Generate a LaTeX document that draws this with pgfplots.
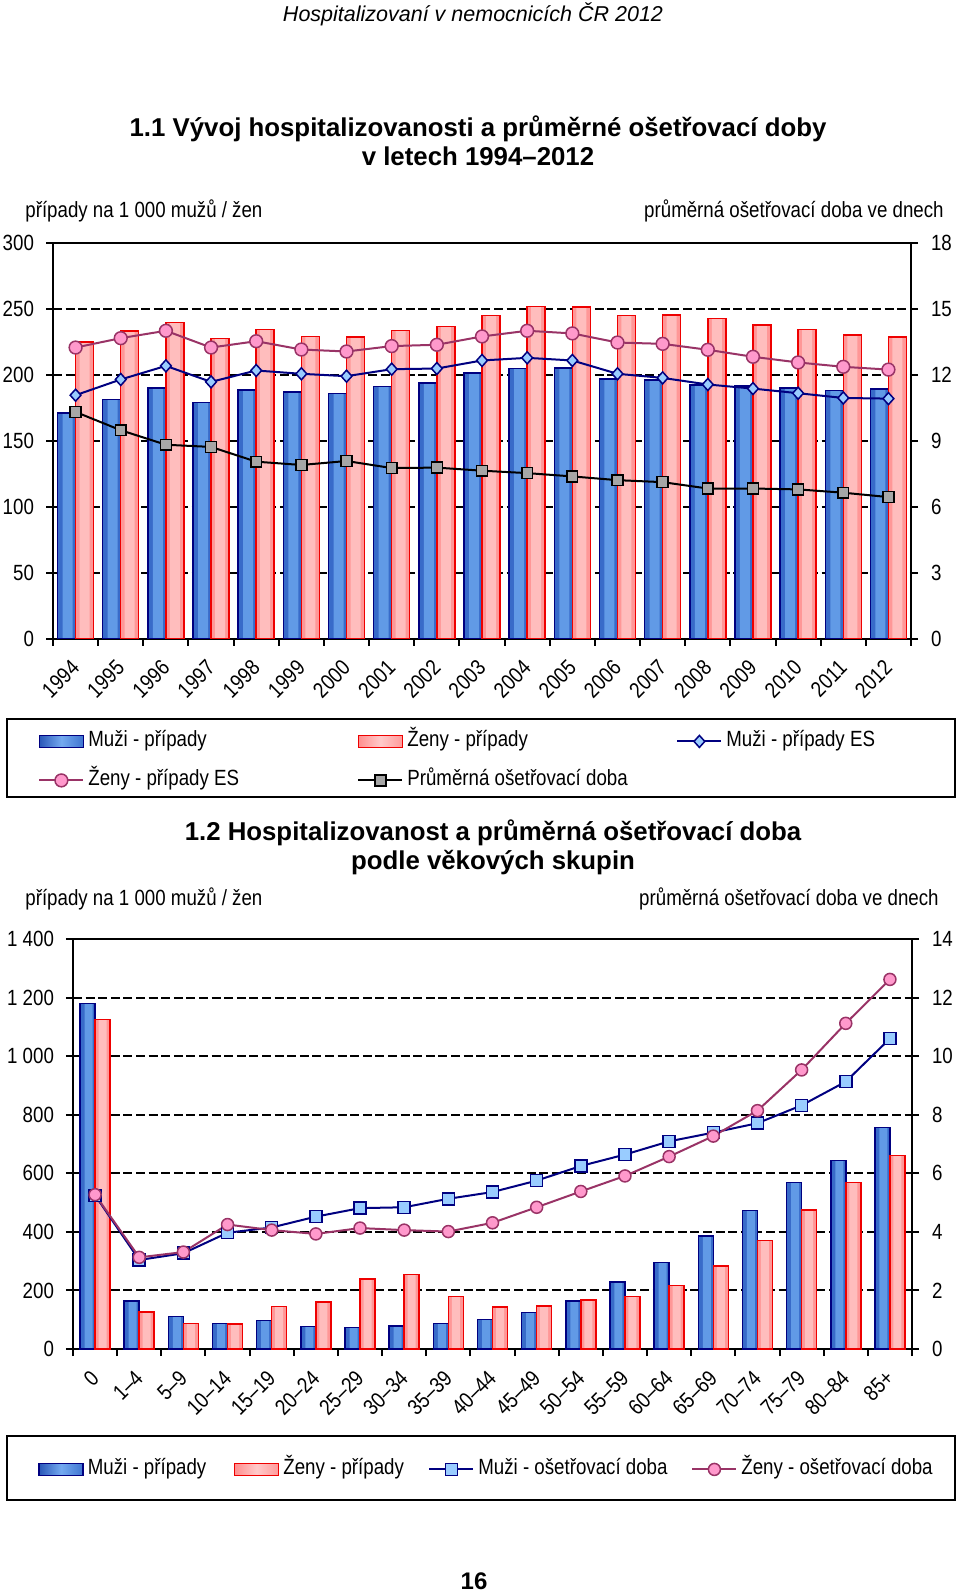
\documentclass[border=0pt]{standalone}
\usepackage{pgfplots}
\usepackage{pgfplotstable}
\pgfplotsset{compat=1.18}
\usepackage{fontspec}
\setmainfont{Liberation Sans}
\newfontfamily\cf{Liberation Sans}[FakeStretch=0.85]
\definecolor{navy}{HTML}{000080}
\definecolor{bL}{HTML}{2A58B8}
\definecolor{bM}{HTML}{74AAF0}
\definecolor{bR}{HTML}{3E74D0}
\definecolor{bBase}{HTML}{386BC9}
\definecolor{bLight}{HTML}{619AE6}
\definecolor{rL}{HTML}{FF8E8E}
\definecolor{rM}{HTML}{FFCACA}
\definecolor{rR}{HTML}{FF9A9A}
\definecolor{rBase}{HTML}{FF9797}
\definecolor{rLight}{HTML}{FFBDBD}
\definecolor{redE}{HTML}{EE0000}
\definecolor{plum}{HTML}{993366}
\definecolor{pinkF}{HTML}{FF99CC}
\definecolor{lblue}{HTML}{99CCFF}
\definecolor{grayF}{HTML}{A6A6A6}

% years 1994-2012 (x = 0..18)
\pgfplotstableread{
x m z mes zes d
0 171.3 225.1 184.7 220.8 10.32
1 181.4 233.2 196.6 227.9 9.49
2 190.2 239.8 206.9 233.5 8.83
3 179.1 227.7 194.8 220.8 8.73
4 188.5 234.5 203.4 225.6 8.06
5 187.2 229.2 200.9 219.3 7.91
6 185.9 228.7 199.1 217.8 8.09
7 191.2 233.7 204.4 221.9 7.77
8 194.0 236.8 204.9 222.9 7.79
9 201.6 244.9 211.0 229.2 7.65
10 204.9 252.0 213.0 233.5 7.54
11 205.4 251.5 211.0 231.5 7.39
12 197.1 244.9 200.9 224.6 7.22
13 196.1 245.4 197.8 223.6 7.13
14 192.5 242.9 192.8 219.1 6.84
15 191.5 238.0 189.7 213.8 6.84
16 190.0 234.5 186.2 209.5 6.80
17 188.2 230.2 182.6 206.2 6.65
18 189.5 228.9 182.1 204.1 6.45
}\topdata
% age groups 0 .. 85+ (x = 0..18)
\pgfplotstableread{
x m z md zd
0 1180.0 1125.7 5.25 5.27
1 163.9 126.3 3.04 3.13
2 111.5 87.6 3.27 3.31
3 86.5 85.4 3.97 4.25
4 97.9 144.6 4.15 4.06
5 77.4 160.5 4.52 3.93
6 72.8 239.0 4.81 4.13
7 78.5 255.0 4.84 4.06
8 87.6 179.8 5.13 4.01
9 101.3 143.4 5.36 4.31
10 124.1 146.8 5.75 4.84
11 163.9 167.3 6.25 5.38
12 228.8 179.8 6.64 5.91
13 294.8 216.3 7.09 6.57
14 385.8 283.4 7.39 7.27
15 473.5 369.9 7.71 8.14
16 568.0 474.6 8.32 9.53
17 644.2 568.0 9.13 11.12
18 756.9 661.3 10.60 12.62
}\agedata

\pgfplotsset{
  chart/.style={scale only axis,
    font=\cf\fontsize{11pt}{13pt}\selectfont,
    axis line style={line width=1pt, black},
    tick align=outside, major tick length=3.5pt, minor tick length=3.5pt,
    every tick/.style={line width=1pt, black},
    /pgf/number format/assume math mode=true,
    xmin=-0.5, xmax=18.5, xtick={0,...,18}, xtick pos=left,
    minor xtick={-0.5,0.5,...,18.5},
    major x tick style={draw=none},
    xticklabel style={yshift=-9pt, rotate=45, anchor=east, inner sep=0pt},
    major grid style={black, line width=1pt, dash pattern=on 4.5pt off 1.8pt},
  },
  lefty/.style={ytick pos=left, ymajorgrids, yticklabel style={xshift=-2.5pt}},
  righty/.style={axis y line*=right, axis x line=none, yticklabel style={xshift=3pt}},
  mleg/.style={legend image code/.code={\draw[navy, line width=0.75pt, left color=bL, right color=bR, middle color=bM] (0pt,-3pt) rectangle (22pt,3pt);}},
  zleg/.style={legend image code/.code={\draw[redE, line width=0.75pt, left color=rL, right color=rR, middle color=rM] (0pt,-3pt) rectangle (22pt,3pt);}},
  lineleg/.style={legend image code/.code={\draw[mark repeat=2,mark phase=2,##1] plot coordinates {(0pt,0pt) (11pt,0pt) (22pt,0pt)};}},
  leg/.style={legend cell align=left,
    legend style={draw=none, fill=none, inner sep=0pt, row sep=9pt,
      nodes={inner sep=0pt, text height=8pt, text depth=2.5pt},
      /tikz/every odd column/.append style={column sep=2pt}}},
}
\begin{document}
\begin{tikzpicture}
\useasboundingbox (0pt,0pt) rectangle (480pt,-796.5pt);
% header and titles
\node[font=\fontsize{10.75pt}{13pt}\selectfont\itshape] at (236.5pt,-7pt) {Hospitalizovaní v nemocnicích ČR 2012};
\node[align=center, font=\fontsize{12.9pt}{14.5pt}\selectfont\bfseries] at (239pt,-70.5pt) {1.1 Vývoj hospitalizovanosti a průměrné ošetřovací doby\\v letech 1994–2012};
\node[anchor=west, inner sep=0pt, font=\cf\fontsize{11pt}{13pt}\selectfont] at (12.5pt,-105.5pt) {případy na 1 000 mužů / žen};
\node[anchor=east, inner sep=0pt, font=\cf\fontsize{11pt}{13pt}\selectfont] at (472pt,-105.5pt) {průměrná ošetřovací doba ve dnech};

% ---------- chart 1.1 ----------
\begin{axis}[chart, lefty, at={(26.5pt,-121.5pt)}, anchor=north west, width=429pt, height=198pt,
  ymin=0, ymax=300, ytick={0,50,...,300},
  xticklabels={1994,1995,1996,1997,1998,1999,2000,2001,2002,2003,2004,2005,2006,2007,2008,2009,2010,2011,2012},
  leg, legend columns=3,
  legend style={at={(-0.01748,-0.2311)}, anchor=north west}]
% Muzi - pripady (fill, highlight, outline)
\addplot[ybar, bar width=9pt, bar shift=-4.5pt, fill=bBase, draw=none, forget plot] table[x=x,y=m]{\topdata};
\addplot[ybar, bar width=5pt, bar shift=-4pt, fill=bLight, draw=none, forget plot] table[x=x,y=m]{\topdata};
\addplot[ybar, bar width=9pt, bar shift=-4.5pt, fill=none, draw=navy, line width=0.75pt, mleg] table[x=x,y=m]{\topdata};
\addlegendentry{\makebox[134.5pt][l]{Muži - případy}}
% Zeny - pripady
\addplot[ybar, bar width=9pt, bar shift=4.5pt, fill=rBase, draw=none, forget plot] table[x=x,y=z]{\topdata};
\addplot[ybar, bar width=5pt, bar shift=4.5pt, fill=rLight, draw=none, forget plot] table[x=x,y=z]{\topdata};
\addplot[ybar, bar width=9pt, bar shift=4.5pt, fill=none, draw=redE, line width=0.75pt, zleg] table[x=x,y=z]{\topdata};
\addlegendentry{\makebox[134.5pt][l]{Ženy - případy}}
\addplot[navy, line width=1pt, mark=diamond*, mark size=3pt, mark options={fill=lblue, draw=navy, line width=0.75pt, xscale=1.2}, lineleg] table[x=x,y=mes]{\topdata};
\addlegendentry{Muži - případy ES}
\addplot[plum, line width=1pt, mark=*, mark size=3.2pt, mark options={fill=pinkF, draw=plum, line width=0.75pt}, lineleg] table[x=x,y=zes]{\topdata};
\addlegendentry{Ženy - případy ES}
\addlegendimage{lineleg, black, line width=1pt, mark=square*, mark size=2.7pt, mark options={fill=grayF, draw=black, line width=0.75pt}}
\addlegendentry{Průměrná ošetřovací doba}
\end{axis}
\begin{axis}[chart, righty, at={(26.5pt,-121.5pt)}, anchor=north west, width=429pt, height=198pt,
  ymin=0, ymax=18, ytick={0,3,...,18}]
\addplot[black, line width=1pt, mark=square*, mark size=2.7pt, mark options={fill=grayF, draw=black, line width=0.75pt}] table[x=x,y=d]{\topdata};
\end{axis}
\draw[line width=1pt] (3.5pt,-359.5pt) rectangle (477.5pt,-398.5pt);

% ---------- chart 1.2 ----------
\node[align=center, font=\fontsize{12.9pt}{14.5pt}\selectfont\bfseries] at (246.5pt,-423.75pt) {1.2 Hospitalizovanost a průměrná ošetřovací doba\\podle věkových skupin};
\node[anchor=west, inner sep=0pt, font=\cf\fontsize{11pt}{13pt}\selectfont] at (12.5pt,-449.5pt) {případy na 1 000 mužů / žen};
\node[anchor=east, inner sep=0pt, font=\cf\fontsize{11pt}{13pt}\selectfont] at (469.5pt,-449.5pt) {průměrná ošetřovací doba ve dnech};
\begin{axis}[chart, lefty, at={(36.5pt,-469.5pt)}, anchor=north west, width=419.5pt, height=205pt,
  ymin=0, ymax=1400, ytick={0,200,...,1400}, yticklabels={0,200,400,600,800,1 000,1 200,1 400},
  xticklabels={0,1–4,5–9,10–14,15–19,20–24,25–29,30–34,35–39,40–44,45–49,50–54,55–59,60–64,65–69,70–74,75–79,80–84,85+},
  leg, legend columns=4,
  legend style={at={(-0.04172,-0.2671)}, anchor=north west}]
\addplot[ybar, bar width=7.5pt, bar shift=-3.75pt, fill=bBase, draw=none, forget plot] table[x=x,y=m]{\agedata};
\addplot[ybar, bar width=4pt, bar shift=-3.25pt, fill=bLight, draw=none, forget plot] table[x=x,y=m]{\agedata};
\addplot[ybar, bar width=7.5pt, bar shift=-3.75pt, fill=none, draw=navy, line width=0.75pt, mleg] table[x=x,y=m]{\agedata};
\addlegendentry{\makebox[73pt][l]{Muži - případy}}
\addplot[ybar, bar width=7.5pt, bar shift=3.75pt, fill=rBase, draw=none, forget plot] table[x=x,y=z]{\agedata};
\addplot[ybar, bar width=4pt, bar shift=3.75pt, fill=rLight, draw=none, forget plot] table[x=x,y=z]{\agedata};
\addplot[ybar, bar width=7.5pt, bar shift=3.75pt, fill=none, draw=redE, line width=0.75pt, zleg] table[x=x,y=z]{\agedata};
\addlegendentry{\makebox[72.5pt][l]{Ženy - případy}}
\addlegendimage{lineleg, navy, line width=1pt, mark=square*, mark size=3pt, mark options={fill=lblue, draw=navy, line width=0.75pt}}
\addlegendentry{\makebox[106.5pt][l]{Muži - ošetřovací doba}}
\addlegendimage{lineleg, plum, line width=1pt, mark=*, mark size=3pt, mark options={fill=pinkF, draw=plum, line width=0.75pt}}
\addlegendentry{Ženy - ošetřovací doba}
\end{axis}
\begin{axis}[chart, righty, at={(36.5pt,-469.5pt)}, anchor=north west, width=419.5pt, height=205pt,
  ymin=0, ymax=14, ytick={0,2,...,14}]
\addplot[navy, line width=1pt, mark=square*, mark size=3pt, mark options={fill=lblue, draw=navy, line width=0.75pt}] table[x=x,y=md]{\agedata};
\addplot[plum, line width=1pt, mark=*, mark size=3pt, mark options={fill=pinkF, draw=plum, line width=0.75pt}] table[x=x,y=zd]{\agedata};
\end{axis}
\draw[line width=1pt] (3.5pt,-718pt) rectangle (477.5pt,-750pt);
\node[font=\fontsize{12pt}{14pt}\selectfont\bfseries] at (237pt,-790.5pt) {16};
\end{tikzpicture}
\end{document}
